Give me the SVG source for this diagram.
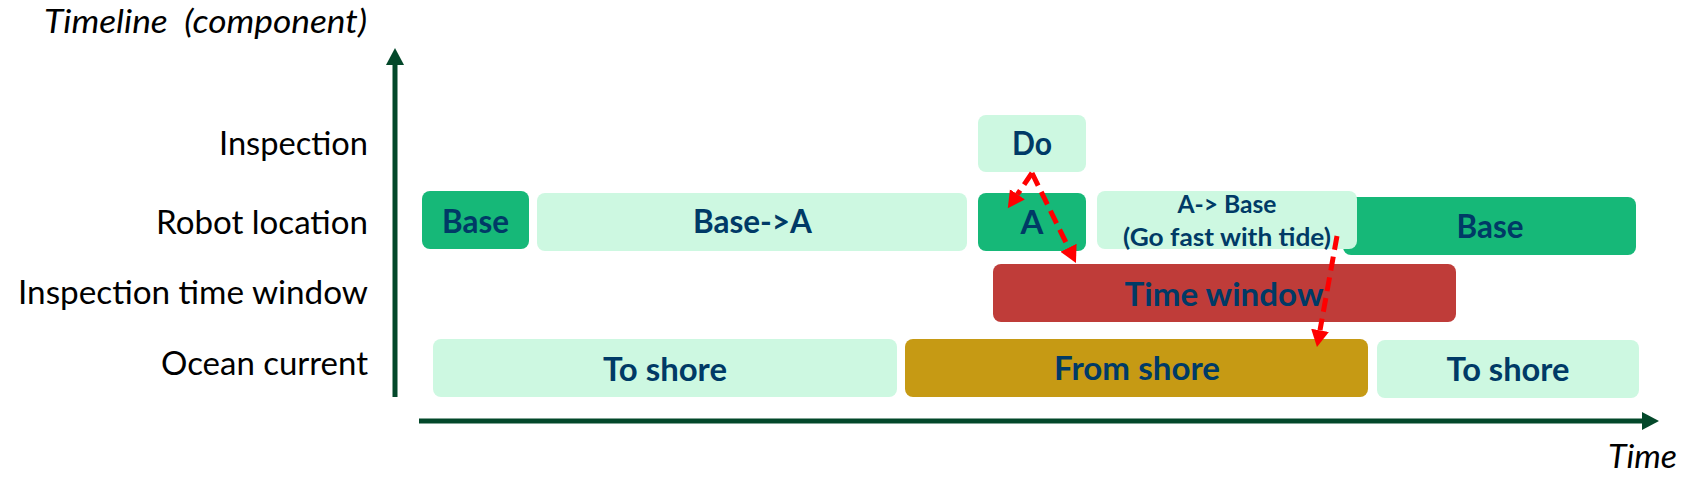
<svg xmlns="http://www.w3.org/2000/svg" width="1707" height="497" viewBox="0 0 1707 497">
<style>
.lbl{font-family:Lato,"Liberation Sans",sans-serif;font-size:33px;fill:#000;text-anchor:end}
.it{font-family:Lato,"Liberation Sans",sans-serif;font-size:33px;font-style:italic;fill:#000}
.bt{font-family:Lato,"Liberation Sans",sans-serif;font-weight:bold;font-size:33px;fill:#003a66;text-anchor:middle}
.st{font-size:25px}
.mint{fill:#cdf8e1}
.grn{fill:#16b878}
.red{fill:#bf3c39}
.gold{fill:#c69a14}
.axis{stroke:#03482a;stroke-width:5;fill:none}
.dash{stroke:#ff0000;stroke-width:5;fill:none;stroke-dasharray:14 7}
</style>
<defs>
<marker id="ah" markerUnits="userSpaceOnUse" markerWidth="22" markerHeight="22" viewBox="0 -11 22 22" refX="0" refY="0" orient="auto">
<path d="M0,-9 L17,0 L0,9 z" fill="#ff0000"/>
</marker>
<marker id="axh" markerUnits="userSpaceOnUse" markerWidth="20" markerHeight="20" viewBox="0 -10 20 20" refX="0" refY="0" orient="auto">
<path d="M0,-9 L17,0 L0,9 z" fill="#03482a"/>
</marker>
</defs>
<rect width="1707" height="497" fill="#fff"/>

<g id="axes">
<line class="axis" x1="395" y1="397" x2="395" y2="65" marker-end="url(#axh)"/>
<line class="axis" x1="419" y1="421" x2="1642" y2="421" marker-end="url(#axh)"/>
<text class="it" x="44" y="33" textLength="323" lengthAdjust="spacingAndGlyphs" xml:space="preserve">Timeline  (component)</text>
<text class="it" x="1608" y="468" textLength="69" lengthAdjust="spacingAndGlyphs">Time</text>
</g>

<g id="row-labels">
<text class="lbl" x="368" y="155" textLength="149" lengthAdjust="spacingAndGlyphs">Inspection</text>
<text class="lbl" x="368" y="234" textLength="212" lengthAdjust="spacingAndGlyphs">Robot location</text>
<text class="lbl" x="368" y="304" textLength="350" lengthAdjust="spacingAndGlyphs">Inspection time window</text>
<text class="lbl" x="368" y="375" textLength="207" lengthAdjust="spacingAndGlyphs">Ocean current</text>
</g>

<g id="do">
<rect class="mint" x="978" y="115" width="108" height="57" rx="8"/>
<text class="bt" x="1032" y="155" textLength="40" lengthAdjust="spacingAndGlyphs">Do</text>
</g>

<g id="base-left">
<rect class="grn" x="422" y="191" width="107" height="58" rx="8"/>
<text class="bt" x="475.5" y="233" textLength="67" lengthAdjust="spacingAndGlyphs">Base</text>
</g>

<g id="base-to-a">
<rect class="mint" x="537" y="193" width="430" height="58" rx="8"/>
<text class="bt" x="752.5" y="233" textLength="119" lengthAdjust="spacingAndGlyphs">Base-&gt;A</text>
</g>

<g id="a">
<rect class="grn" x="978" y="193" width="108" height="58" rx="8"/>
<text class="bt" x="1032" y="234">A</text>
</g>

<g id="base-right">
<rect class="grn" x="1343" y="197" width="293" height="58" rx="8"/>
<text class="bt" x="1490" y="238" textLength="67" lengthAdjust="spacingAndGlyphs">Base</text>
</g>

<g id="a-to-base">
<rect class="mint" x="1097" y="191" width="260" height="58" rx="8"/>
<text class="bt st" x="1227" y="213" textLength="99" lengthAdjust="spacingAndGlyphs">A-&gt; Base</text>
<text class="bt st" x="1227" y="246" textLength="208" lengthAdjust="spacingAndGlyphs">(Go fast with tide)</text>
</g>

<g id="time-window">
<rect class="red" x="993" y="264" width="463" height="58" rx="8"/>
<text class="bt" x="1224" y="306" textLength="199" lengthAdjust="spacingAndGlyphs">Time window</text>
</g>

<g id="to-shore-left">
<rect class="mint" x="433" y="339" width="464" height="58" rx="8"/>
<text class="bt" x="665" y="381" textLength="124" lengthAdjust="spacingAndGlyphs">To shore</text>
</g>

<g id="from-shore">
<rect class="gold" x="905" y="339" width="463" height="58" rx="8"/>
<text class="bt" x="1137" y="380" textLength="166" lengthAdjust="spacingAndGlyphs">From shore</text>
</g>

<g id="to-shore-right">
<rect class="mint" x="1377" y="340" width="262" height="58" rx="8"/>
<text class="bt" x="1508" y="381" textLength="123" lengthAdjust="spacingAndGlyphs">To shore</text>
</g>

<g id="connectors">
<path class="dash" d="M1032,173 L1017.4,194.3" marker-end="url(#ah)"/>
<path class="dash" d="M1032,173 L1068.5,247.7" marker-end="url(#ah)"/>
<path class="dash" d="M1337,236 L1320,330.3" marker-end="url(#ah)"/>
</g>
</svg>
